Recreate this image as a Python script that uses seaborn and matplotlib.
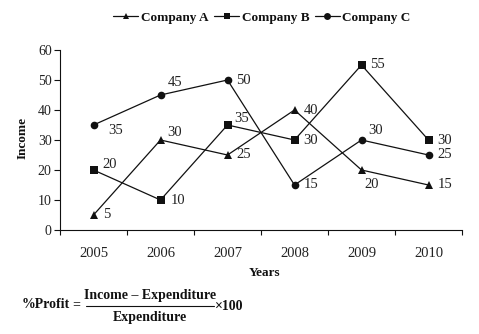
import matplotlib
matplotlib.use("Agg")
import matplotlib.pyplot as plt
import seaborn as sns
import pandas as pd
from matplotlib.lines import Line2D
from matplotlib.ticker import FixedLocator, NullFormatter

years = ["2005", "2006", "2007", "2008", "2009", "2010"]
company_a = [5, 30, 25, 40, 20, 15]
company_b = [20, 10, 35, 30, 55, 30]
company_c = [35, 45, 50, 15, 30, 25]
series_names = ["Company A", "Company B", "Company C"]

sns.set_theme(style="white")
plt.rcParams["font.family"] = ["Liberation Serif", "DejaVu Serif"]
plt.rcParams["text.color"] = "#111111"

rows = []
for name, vals in zip(series_names, [company_a, company_b, company_c]):
    for i, (yr, v) in enumerate(zip(years, vals)):
        rows.append({"pos": i, "Year": yr, "Income": v, "Company": name})
df = pd.DataFrame(rows)

fig = plt.figure(figsize=(4.79, 3.34), dpi=100)
ax = fig.add_axes([60 / 479, 1 - 230 / 334, 402 / 479, 180 / 334])

markers = {"Company A": "^", "Company B": "s", "Company C": "o"}
palette = {n: "#111111" for n in series_names}
sns.lineplot(data=df, x="pos", y="Income", hue="Company", style="Company",
             markers=markers, dashes=False, palette=palette, ax=ax,
             linewidth=0.9, markersize=5.5, markeredgewidth=0, legend=False)

# label offsets in pixels (dx from point to text left edge, dy up)
offsets = {
    "Company A": [(10, 0), (7, 7), (9, 0), (9, 0), (3, -14), (9, 0)],
    "Company B": [(9, 5), (10, 0), (7, 6), (9, 0), (9, 0), (9, 0)],
    "Company C": [(15, -5), (7, 12), (9, 0), (9, 0), (7, 9), (9, 0)],
}
for name, vals in zip(series_names, [company_a, company_b, company_c]):
    for i, v in enumerate(vals):
        dx, dy = offsets[name][i]
        ax.annotate(str(v), (i, v), xytext=(dx * 0.72, dy * 0.72),
                    textcoords="offset points", ha="left", va="center",
                    fontsize=10.5, color="#222222")

ax.set_xlim(-0.5, 5.5)
ax.set_ylim(0, 60)
ax.set_yticks(range(0, 61, 10))
ax.xaxis.set_major_locator(FixedLocator([i - 0.5 for i in range(7)]))
ax.xaxis.set_major_formatter(NullFormatter())
ax.xaxis.set_minor_locator(FixedLocator(list(range(6))))
ax.set_xticklabels(years, minor=True)
ax.tick_params(axis="x", which="major", direction="out", length=3.5, width=0.8,
               color="#111111", bottom=True)
ax.tick_params(axis="x", which="minor", length=0, pad=12, labelsize=10.5,
               labelcolor="#222222", bottom=True)
ax.tick_params(axis="y", direction="out", length=4, width=0.8, color="#111111",
               left=True, labelsize=10, labelcolor="#222222", pad=2)
for s in ["top", "right"]:
    ax.spines[s].set_visible(False)
for s in ["left", "bottom"]:
    ax.spines[s].set_color("#111111")
    ax.spines[s].set_linewidth(0.8)
ax.set_xlabel("")
ax.set_ylabel("")

fig.text(23 / 479, 1 - 138 / 334, "Income", rotation=90, ha="center", va="center",
         fontsize=9.5, fontweight="bold")
fig.text(265 / 479, 1 - 273 / 334, "Years", ha="center", va="center",
         fontsize=9.5, fontweight="bold")

# legend
handles = [Line2D([], [], color="#111111", marker=markers[n], markersize=5,
                  markeredgewidth=0, linewidth=0.9) for n in series_names]
fig.legend(handles, series_names, loc="center", bbox_to_anchor=(262 / 479, 1 - 18 / 334),
           ncol=3, frameon=False, prop={"weight": "bold", "size": 9.5},
           handlelength=1.9, handletextpad=0.2, columnspacing=0.4)

# formula
fig.text(22 / 479, 1 - 305 / 334, "%Profit", ha="left", va="center",
         fontsize=10, fontweight="bold")
fig.text(72 / 479, 1 - 305 / 334, "=", ha="left", va="center",
         fontsize=10, fontweight="bold")
fig.text(150 / 479, 1 - 296 / 334, "Income \u2013 Expenditure", ha="center", va="center",
         fontsize=10, fontweight="bold")
fig.text(150 / 479, 1 - 318 / 334, "Expenditure", ha="center", va="center",
         fontsize=10, fontweight="bold")
fig.add_artist(Line2D([86 / 479, 214 / 479], [1 - 306 / 334, 1 - 306 / 334],
                      color="#111111", linewidth=0.8, transform=fig.transFigure))
fig.text(215 / 479, 1 - 306 / 334, "\u00d7100", ha="left", va="center",
         fontsize=10, fontweight="bold")

fig.savefig("out.png", dpi=100)
